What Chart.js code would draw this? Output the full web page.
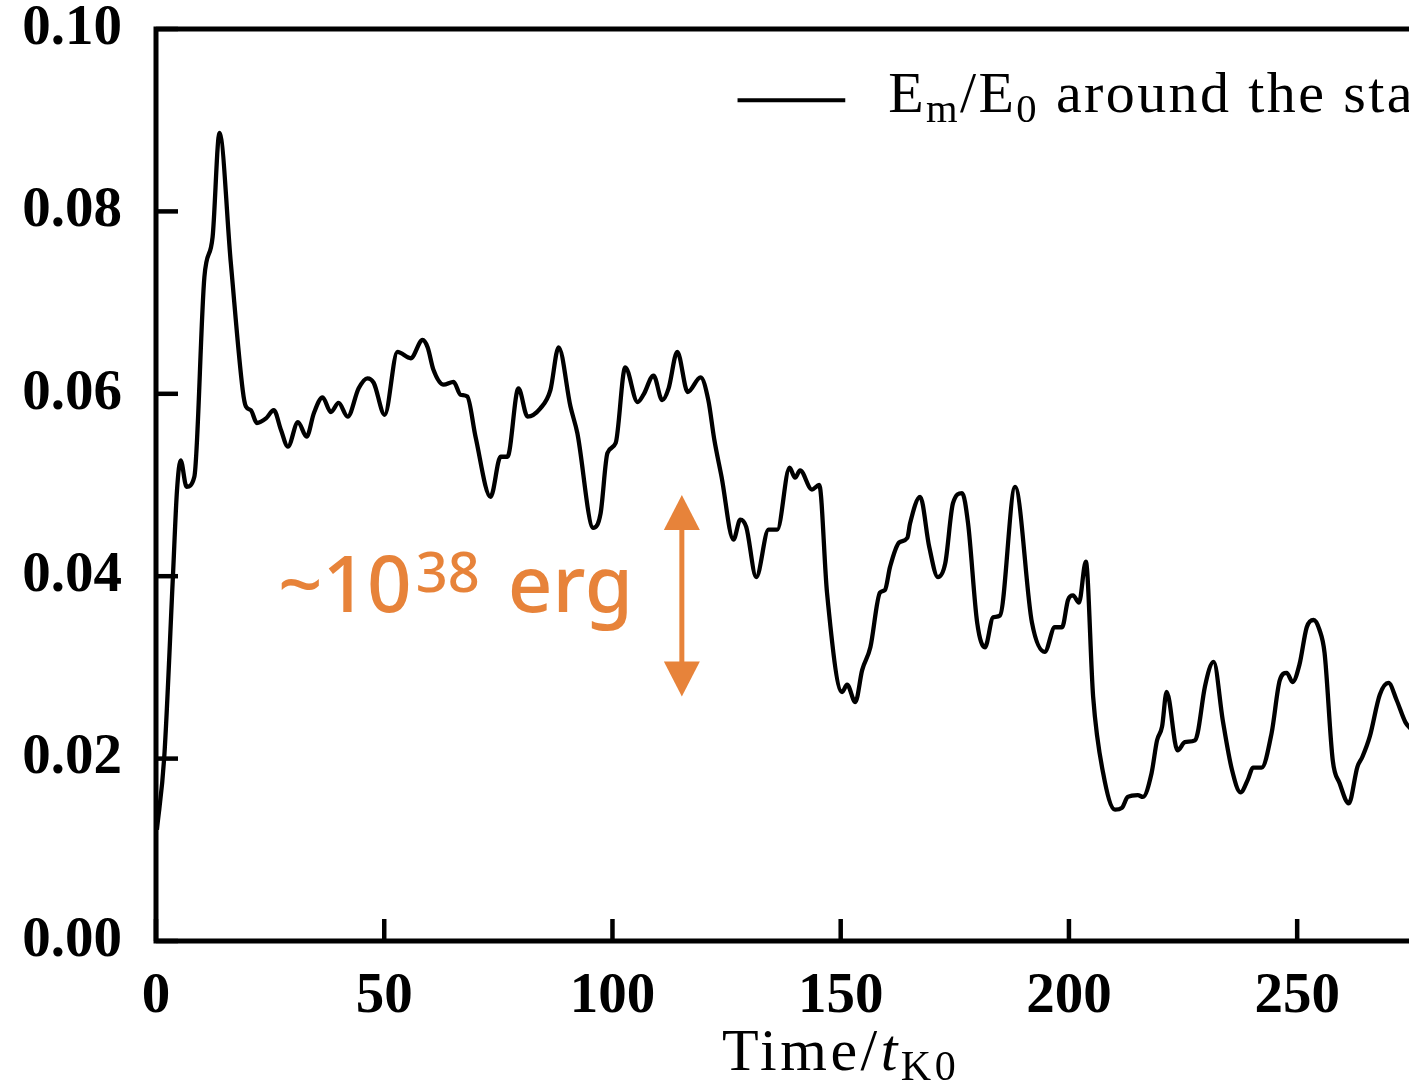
<!DOCTYPE html>
<html>
<head>
<meta charset="utf-8">
<script src="https://cdn.jsdelivr.net/npm/chart.js@4"></script>
<style>
  html, body { margin: 0; padding: 0; background: #fff; }
  #wrap { width: 1409px; height: 1082px; }
</style>
</head>
<body>
<div id="wrap"><canvas id="chart"></canvas></div>
<script>
// time in units of t_K0
const times = [
  0.2, 1.8, 3.7, 4.6, 5.4, 6.7, 8.4, 10.6, 12.4, 13.9, 16.4, 19.0, 19.7, 20.8, 22.1,
  24.1, 25.8, 27.4, 28.9, 31.1, 33.0, 34.6, 36.5, 38.3, 40.0, 42.0, 44.4, 46.3, 47.7,
  50.1, 52.9, 55.8, 58.4, 59.5, 60.8, 63.0, 65.2, 66.7, 68.2, 70.0, 73.3, 75.5, 77.0,
  79.4, 81.4, 84.2, 86.4, 88.2, 90.8, 92.3, 95.8, 97.4, 98.9, 100.7, 102.8, 105.5,
  106.8, 109.0, 110.9, 112.3, 114.2, 116.5, 119.3, 121.0, 122.3, 123.9, 126.5, 128.0,
  129.3, 131.5, 134.2, 136.1, 138.8, 140.0, 141.1, 143.7, 145.3, 147.0, 150.3, 151.4,
  153.2, 154.7, 156.5, 158.6, 159.7, 160.8, 162.8, 164.6, 165.2, 167.4, 169.4, 171.3,
  172.9, 174.6, 176.6, 177.9, 179.9, 181.6, 183.4, 184.9, 188.2, 191.9, 194.7, 196.9,
  198.5, 199.8, 200.9, 202.2, 203.7, 205.3, 207.5, 210.1, 211.6, 212.9, 215.1, 216.2,
  218.1, 219.3, 220.4, 221.4, 223.8, 225.4, 227.6, 228.2, 229.8, 231.7, 233.7, 235.7,
  237.6, 239.2, 240.3, 242.2, 244.4, 246.2, 247.7, 249.0, 250.5, 252.1, 253.6, 254.9,
  256.0, 257.8, 259.3, 261.3, 263.2, 264.3, 265.9, 268.1, 270.0, 271.8, 273.7, 275.0
];
// E_m / E_0
const energy = [
  0.0122, 0.0201, 0.0399, 0.0494, 0.0527, 0.0498, 0.0509, 0.0728, 0.0772, 0.0886, 0.0743, 0.0604, 0.0586, 0.0582, 0.0568,
  0.0573, 0.0582, 0.0560, 0.0542, 0.0569, 0.0553, 0.0579, 0.0596, 0.0580, 0.0590, 0.0575, 0.0606, 0.0617, 0.0612,
  0.0577, 0.0646, 0.0639, 0.0659, 0.0651, 0.0626, 0.0610, 0.0613, 0.0599, 0.0597, 0.0553, 0.0487, 0.0531, 0.0531,
  0.0606, 0.0575, 0.0584, 0.0604, 0.0651, 0.0586, 0.0557, 0.0453, 0.0469, 0.0535, 0.0546, 0.0629, 0.0591,
  0.0599, 0.0620, 0.0593, 0.0606, 0.0646, 0.0602, 0.0618, 0.0593, 0.0550, 0.0509, 0.0440, 0.0462,
  0.0454, 0.0399, 0.0451, 0.0451, 0.0519, 0.0508, 0.0516, 0.0495, 0.0500, 0.0382, 0.0273, 0.0281,
  0.0262, 0.0297, 0.0322, 0.0382, 0.0385, 0.0410, 0.0437, 0.0442, 0.0458, 0.0487, 0.0432, 0.0399,
  0.0414, 0.0480, 0.0491, 0.0458, 0.0349, 0.0322, 0.0355, 0.0357, 0.0498, 0.0349, 0.0317, 0.0344,
  0.0344, 0.0374, 0.0379, 0.0371, 0.0416, 0.0268, 0.0184, 0.0144, 0.0146, 0.0158, 0.0160, 0.0158,
  0.0184, 0.0220, 0.0235, 0.0273, 0.0209, 0.0218, 0.0220, 0.0228, 0.0279, 0.0306, 0.0242, 0.0188,
  0.0163, 0.0177, 0.0190, 0.0190, 0.0228, 0.0286, 0.0294, 0.0284, 0.0303, 0.0344, 0.0352, 0.0341,
  0.0316, 0.0198, 0.0173, 0.0151, 0.0191, 0.0202, 0.0224, 0.0270, 0.0283, 0.0264, 0.0240, 0.0232
];

const xTicks = [0, 50, 100, 150, 200, 250];
const yTicks = [0, 0.02, 0.04, 0.06, 0.08, 0.10];
const yTickLabels = ['0.00', '0.02', '0.04', '0.06', '0.08', '0.10'];

// annotation: energy span arrow (data units)
const arrowX = 115.2;
const arrowSpan = [0.0268, 0.0489];
const noteX = 26.7;
const noteY = 0.0361;

const ORANGE = '#e7833a';
const SERIF = '"Liberation Serif", "DejaVu Serif", serif';

// draws a run of [text, style] pieces, style: 'n' normal, 'i' italic, 's' subscript
function drawRuns(ctx, x, y, runs, size, spacing) {
  ctx.textBaseline = 'alphabetic';
  ctx.textAlign = 'left';
  ctx.letterSpacing = spacing + 'px';
  runs.forEach(([txt, st]) => {
    let f = size, dy = 0, it = '';
    if (st === 's') { f = size * 0.7; dy = size * 0.17; }
    if (st === 'i') it = 'italic ';
    ctx.font = `${it}${f}px ${SERIF}`;
    ctx.fillText(txt, x, y + dy);
    x += ctx.measureText(txt).width;
  });
  ctx.letterSpacing = '0px';
}

const extras = {
  id: 'extras',
  afterDraw(chart) {
    const { ctx, chartArea: a, scales: { x, y } } = chart;
    ctx.save();

    // frame
    ctx.strokeStyle = '#000';
    ctx.lineWidth = 5;
    ctx.lineCap = 'butt';
    ctx.beginPath();
    ctx.moveTo(a.right + 5, a.top);
    ctx.lineTo(a.left, a.top);
    ctx.lineTo(a.left, a.bottom);
    ctx.lineTo(a.right + 5, a.bottom);
    ctx.stroke();

    // inward ticks
    ctx.lineWidth = 4.5;
    xTicks.forEach(v => {
      const px = x.getPixelForValue(v);
      ctx.beginPath(); ctx.moveTo(px, a.bottom); ctx.lineTo(px, a.bottom - 22); ctx.stroke();
    });
    yTicks.forEach(v => {
      const py = y.getPixelForValue(v);
      ctx.beginPath(); ctx.moveTo(a.left, py); ctx.lineTo(a.left + 22, py); ctx.stroke();
    });

    // legend
    const ly = y.getPixelForValue(0.0922);
    ctx.lineWidth = 4;
    ctx.beginPath();
    ctx.moveTo(x.getPixelForValue(127.4), ly);
    ctx.lineTo(x.getPixelForValue(151.0), ly);
    ctx.stroke();
    ctx.fillStyle = '#000';
    drawRuns(ctx, x.getPixelForValue(160.4), y.getPixelForValue(0.0909),
      [['E', 'n'], ['m', 's'], ['/E', 'n'], ['0', 's'], [' around the star', 'n']], 58, 2.4);

    // x axis title
    drawRuns(ctx, 722, 1070, [['Time/', 'n'], ['t', 'i'], ['K0', 's']], 60, 3.5);

    // orange annotation
    ctx.fillStyle = ORANGE;
    ctx.strokeStyle = ORANGE;
    const ax = x.getPixelForValue(arrowX);
    const y0 = y.getPixelForValue(arrowSpan[0]);
    const y1 = y.getPixelForValue(arrowSpan[1]);
    const hh = 35, hw = 18;
    ctx.lineWidth = 5;
    ctx.beginPath(); ctx.moveTo(ax, y1 + hh - 2); ctx.lineTo(ax, y0 - hh + 2); ctx.stroke();
    ctx.beginPath(); ctx.moveTo(ax, y1); ctx.lineTo(ax - hw, y1 + hh); ctx.lineTo(ax + hw, y1 + hh); ctx.closePath(); ctx.fill();
    ctx.beginPath(); ctx.moveTo(ax, y0); ctx.lineTo(ax - hw, y0 - hh); ctx.lineTo(ax + hw, y0 - hh); ctx.closePath(); ctx.fill();

    let tx = x.getPixelForValue(noteX);
    const ty = y.getPixelForValue(noteY);
    ctx.textBaseline = 'alphabetic';
    ctx.font = '500 78px "Noto Sans", sans-serif';
    ctx.fillText('~10', tx, ty);
    tx += ctx.measureText('~10').width + 4;
    ctx.font = '500 56px "Noto Sans", sans-serif';
    ctx.fillText('38', tx, ty - 20);
    tx += ctx.measureText('38').width + 28;
    ctx.font = '500 78px "Noto Sans", sans-serif';
    ctx.fillText('erg', tx, ty);

    ctx.restore();
  }
};

new Chart(document.getElementById('chart'), {
  type: 'line',
  data: {
    datasets: [{
      data: times.map((t, i) => ({ x: t, y: energy[i] })),
      borderColor: '#000',
      borderWidth: 4.3,
      pointRadius: 0,
      cubicInterpolationMode: 'monotone',
      fill: false
    }]
  },
  options: {
    responsive: true,
    maintainAspectRatio: false,
    animation: false,
    layout: { padding: { top: 29, left: 0, right: 0, bottom: 0 } },
    plugins: { legend: { display: false }, tooltip: { enabled: false } },
    scales: {
      x: {
        type: 'linear',
        min: 0,
        max: 274.5,
        grid: { display: false, drawTicks: false },
        border: { display: false },
        afterBuildTicks: s => { s.ticks = xTicks.map(v => ({ value: v })); },
        afterFit: s => { s.height = 141; s.paddingLeft = 0; s.paddingRight = 0; },
        ticks: {
          color: '#000',
          padding: 22,
          maxRotation: 0,
          font: { family: SERIF, size: 57, weight: 'bold' },
          callback: v => String(v)
        }
      },
      y: {
        min: 0,
        max: 0.1,
        grid: { display: false, drawTicks: false },
        border: { display: false },
        afterBuildTicks: s => { s.ticks = yTicks.map(v => ({ value: v })); },
        afterFit: s => { s.width = 156; s.paddingTop = 0; s.paddingBottom = 0; },
        ticks: {
          color: '#000',
          padding: 34,
          font: { family: SERIF, size: 57, weight: 'bold' },
          callback: (v, i) => yTickLabels[i]
        }
      }
    }
  },
  plugins: [extras]
});
</script>
</body>
</html>
